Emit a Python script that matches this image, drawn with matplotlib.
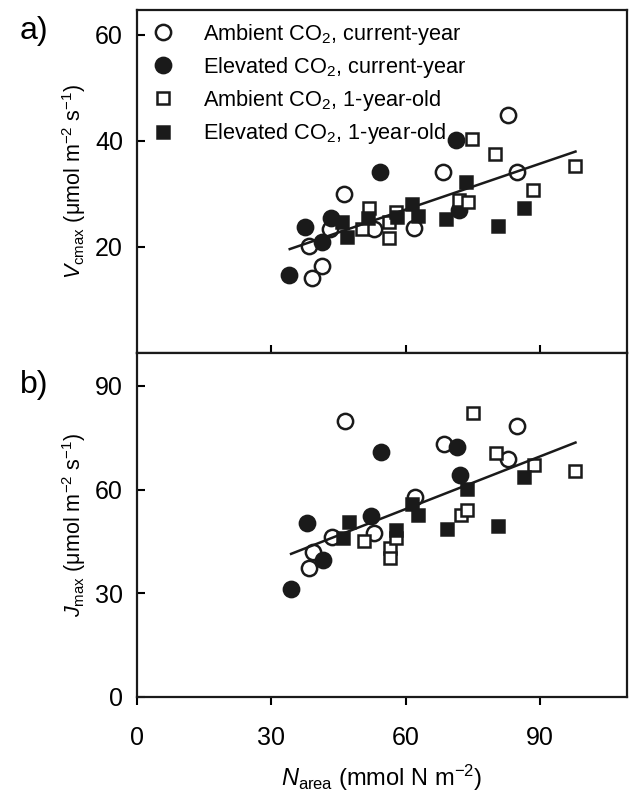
import matplotlib
matplotlib.use("Agg")
import matplotlib.pyplot as plt

plt.rcParams['font.family'] = ['Liberation Sans', 'DejaVu Sans']
plt.rcParams['mathtext.fontset'] = 'custom'
plt.rcParams['mathtext.rm'] = 'Liberation Sans'
plt.rcParams['mathtext.it'] = 'Liberation Sans:italic'
plt.rcParams['mathtext.bf'] = 'Liberation Sans:bold'

# ---- Panel a) Vcmax ----
amb_cur_x_a = [46.2, 43.1, 38.4, 41.4, 39.0, 52.9, 61.9, 68.4, 84.8, 82.8]
amb_cur_y_a = [30.0, 23.4, 20.2, 16.4, 14.2, 23.4, 23.5, 34.1, 34.1, 44.8]
ele_cur_x_a = [34.0, 37.5, 41.2, 43.4, 54.3, 71.2, 71.9]
ele_cur_y_a = [14.7, 23.7, 20.9, 25.4, 34.2, 40.2, 26.9]
amb_old_x_a = [51.8, 50.3, 56.3, 56.3, 57.8, 71.9, 73.8, 74.9, 79.9, 88.5, 97.9]
amb_old_y_a = [27.3, 23.3, 21.6, 24.8, 26.6, 28.8, 28.4, 40.3, 37.5, 30.7, 35.3]
ele_old_x_a = [45.7, 46.8, 51.6, 58.0, 61.3, 62.7, 69.1, 73.4, 80.5, 86.3]
ele_old_y_a = [24.7, 21.9, 25.4, 25.6, 28.1, 25.9, 25.3, 32.3, 23.9, 27.3]
fit_x_a = [34.1, 97.9]
fit_y_a = [19.6, 38.0]

# ---- Panel b) Jmax ----
amb_cur_x_b = [46.5, 38.4, 39.4, 43.5, 52.9, 62.0, 68.5, 82.9, 84.9]
amb_cur_y_b = [79.9, 37.2, 42.0, 46.2, 47.4, 57.9, 73.1, 68.9, 78.4]
ele_cur_x_b = [34.4, 37.9, 41.6, 52.2, 54.4, 71.4, 72.1]
ele_cur_y_b = [31.2, 50.2, 39.6, 52.3, 71.0, 72.4, 64.2]
amb_old_x_b = [50.7, 56.5, 56.5, 57.9, 72.3, 73.7, 75.1, 80.1, 88.6, 97.9]
amb_old_y_b = [45.2, 43.0, 40.1, 46.0, 52.6, 54.0, 82.2, 70.5, 67.1, 65.3]
ele_old_x_b = [45.9, 47.3, 57.9, 61.4, 62.7, 69.3, 73.6, 80.7, 86.4]
ele_old_y_b = [46.0, 50.6, 48.3, 55.8, 52.6, 48.6, 60.2, 49.5, 63.5]
fit_x_b = [34.4, 97.9]
fit_y_b = [41.4, 73.6]

labels = ["Ambient CO$_2$, current-year", "Elevated CO$_2$, current-year",
          "Ambient CO$_2$, 1-year-old", "Elevated CO$_2$, 1-year-old"]
x_ticks = [0, 30, 60, 90]
y_ticks_a = [20, 40, 60]
y_ticks_b = [0, 30, 60, 90]

W, H = 631, 794
fig = plt.figure(figsize=(W / 100, H / 100), dpi=100)
left, right = 137 / W, 627 / W
axa = fig.add_axes([left, 1 - 353 / H, right - left, (353 - 10) / H])
axb = fig.add_axes([left, 1 - 697 / H, right - left, (697 - 353) / H])

circ = dict(marker='o', ms=11, mew=1.8, ls='none', mec='#1a1a1a')
sq = dict(marker='s', ms=8.8, mew=1.8, ls='none', mec='#1a1a1a')


def draw(ax, d):
    ax.plot(d[0], d[1], mfc='white', **circ, label=labels[0], zorder=3)
    ax.plot(d[2], d[3], mfc='#1a1a1a', **circ, label=labels[1], zorder=3)
    ax.plot(d[4], d[5], mfc='white', **sq, label=labels[2], zorder=3)
    ax.plot(d[6], d[7], mfc='#1a1a1a', **sq, label=labels[3], zorder=3)
    ax.plot(d[8], d[9], color='#1a1a1a', lw=1.8, zorder=4)
    for s in ax.spines.values():
        s.set_linewidth(1.6)
        s.set_color('#1a1a1a')
    ax.set_xlim(0, 109.4)


draw(axa, [amb_cur_x_a, amb_cur_y_a, ele_cur_x_a, ele_cur_y_a,
           amb_old_x_a, amb_old_y_a, ele_old_x_a, ele_old_y_a, fit_x_a, fit_y_a])
draw(axb, [amb_cur_x_b, amb_cur_y_b, ele_cur_x_b, ele_cur_y_b,
           amb_old_x_b, amb_old_y_b, ele_old_x_b, ele_old_y_b, fit_x_b, fit_y_b])

axa.set_ylim(0, 64.7)
axa.set_yticks(y_ticks_a)
axa.set_xticks(x_ticks[1:])
axa.tick_params(axis='x', direction='in', length=6, width=1.5, labelbottom=False)
axa.tick_params(axis='y', direction='in', length=6, width=1.5, labelsize=18, pad=10)

axb.set_ylim(0, 99.5)
axb.set_yticks(y_ticks_b)
axb.set_xticks(x_ticks)
axb.tick_params(axis='x', direction='out', length=6, width=1.5, labelsize=18, pad=15)
axb.tick_params(axis='y', direction='in', length=6, width=1.5, labelsize=18, pad=10)

axa.set_ylabel(r"$\mathit{V}_{\mathrm{cmax}}$ (μmol m$^{-2}$ s$^{-1}$)", fontsize=15.5, labelpad=5)
axb.set_ylabel(r"$\mathit{J}_{\mathrm{max}}$ (μmol m$^{-2}$ s$^{-1}$)", fontsize=15.5, labelpad=5)
axb.set_xlabel(r"$\mathit{N}_{\mathrm{area}}$ (mmol N m$^{-2}$)", fontsize=17, labelpad=9)

fig.text(20 / W, 1 - 31 / H, "a)", fontsize=23, va='center', ha='left')
fig.text(20 / W, 1 - 385 / H, "b)", fontsize=23, va='center', ha='left')

leg = axa.legend(loc='upper left', bbox_to_anchor=(0.0, 1.009), frameon=False,
                 fontsize=15.7, handletextpad=1.33, labelspacing=0.37,
                 borderaxespad=0.3, handlelength=1.0, borderpad=0.39)

fig.savefig("out.png", dpi=100)
